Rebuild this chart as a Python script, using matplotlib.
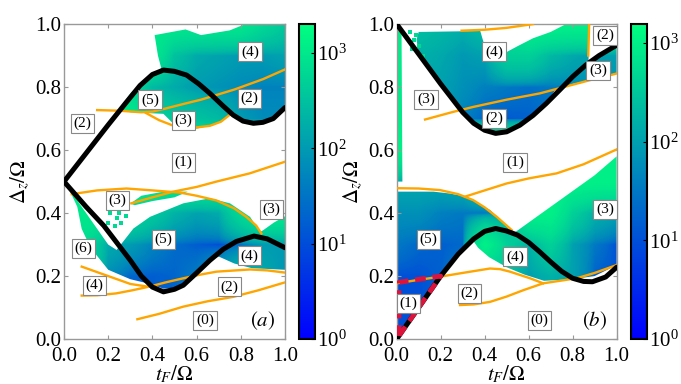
import numpy as np
import matplotlib.pyplot as plt
from matplotlib.path import Path
from matplotlib.patches import PathPatch
from matplotlib.colors import LogNorm

plt.rcParams['font.family'] = ['Liberation Serif', 'DejaVu Serif']
plt.rcParams['mathtext.fontset'] = 'stix'

# ---------------- data ----------------
# coarse log10 readings of the colour map, rows y = 0.0 .. 1.0, cols x = 0.0 .. 1.0
log_a = [
    [2.8, 2.8, 1.8, 1.3, 1.2, 1.3, 1.6, 2.0, 2.4, 2.2, 1.9],
    [2.8, 2.8, 1.8, 1.3, 1.2, 1.3, 1.6, 2.0, 2.4, 2.2, 1.9],
    [2.8, 2.8, 1.8, 1.3, 1.2, 1.3, 1.6, 2.0, 2.4, 2.2, 1.9],
    [2.8, 2.8, 2.2, 2.0, 1.7, 1.4, 1.2, 1.0, 1.4, 2.0, 2.0],
    [3.0, 3.0, 3.0, 2.8, 2.6, 2.3, 2.1, 2.2, 2.8, 3.0, 3.0],
    [3.0, 3.0, 3.0, 3.0, 3.0, 3.0, 3.0, 3.0, 3.0, 3.0, 3.0],
    [3.0, 3.0, 3.0, 3.0, 3.0, 3.0, 3.0, 3.0, 3.0, 3.0, 3.0],
    [3.0, 3.0, 3.0, 3.0, 2.7, 2.6, 2.5, 2.4, 2.0, 1.8, 1.8],
    [3.0, 3.0, 3.0, 2.8, 2.4, 2.2, 2.0, 1.9, 1.8, 1.7, 1.7],
    [3.0, 3.0, 3.0, 3.0, 3.0, 2.5, 2.2, 2.1, 2.0, 2.0, 2.1],
    [3.0, 3.0, 3.0, 3.0, 3.0, 3.0, 3.0, 3.0, 3.0, 2.8, 2.6],
]
log_b = [
    [1.0, 1.0, 1.2, 1.6, 2.4, 2.4, 2.0, 2.2, 2.2, 1.2, 1.0],
    [1.0, 1.0, 1.2, 1.6, 2.4, 2.4, 2.0, 2.2, 2.2, 1.2, 1.0],
    [1.0, 1.0, 1.2, 1.6, 2.4, 2.4, 2.0, 2.2, 2.0, 1.2, 1.0],
    [1.5, 1.3, 1.2, 1.3, 3.0, 2.6, 2.2, 2.6, 2.0, 1.5, 1.0],
    [1.8, 1.8, 1.6, 1.5, 1.5, 2.0, 3.0, 3.0, 2.6, 2.2, 2.0],
    [2.1, 2.1, 2.1, 2.2, 2.5, 2.8, 3.0, 3.0, 3.0, 3.0, 3.0],
    [3.0, 3.0, 3.0, 3.0, 3.0, 3.0, 3.0, 3.0, 3.0, 3.0, 3.0],
    [3.0, 2.0, 2.0, 1.6, 1.2, 1.1, 1.2, 1.4, 1.6, 1.8, 1.8],
    [3.0, 2.0, 2.0, 1.8, 1.6, 1.5, 1.4, 1.5, 1.7, 1.8, 1.8],
    [3.0, 2.2, 2.1, 1.9, 2.0, 2.6, 2.6, 2.3, 2.1, 2.0, 2.0],
    [3.0, 2.4, 2.3, 2.2, 2.4, 2.8, 3.0, 3.0, 3.0, 3.0, 3.0],
]
vmax_a = 2000
vmax_b = 1550

# outlines of the coloured (non-white) areas
regions_a = [
    [(0.41, 0.965), (0.55, 0.983), (0.62, 0.965), (0.75, 0.98), (0.82, 1.0), (1.0, 1.0),
     (1.0, 0.73), (0.95, 0.70), (0.86, 0.683), (0.75, 0.71), (0.68, 0.68), (0.6, 0.668),
     (0.5, 0.68), (0.45, 0.715), (0.3, 0.72), (0.25, 0.73), (0.27, 0.75), (0.3, 0.78),
     (0.36, 0.82), (0.44, 0.86), (0.425, 0.9)],
    [(0.02, 0.48), (0.06, 0.42), (0.08, 0.35), (0.12, 0.29), (0.2, 0.22), (0.3, 0.19),
     (0.39, 0.175), (0.45, 0.16), (0.5, 0.163), (0.55, 0.18), (0.6, 0.21), (0.66, 0.25),
     (0.7, 0.262), (0.77, 0.24), (0.85, 0.225), (1.0, 0.22), (1.0, 0.39), (0.95, 0.37),
     (0.9, 0.345), (0.887, 0.34), (0.842, 0.388), (0.751, 0.431), (0.66, 0.447),
     (0.54, 0.431), (0.389, 0.388), (0.314, 0.351), (0.238, 0.283), (0.2, 0.3),
     (0.15, 0.35), (0.1, 0.4), (0.05, 0.45)],
    [(0.3, 0.43), (0.35, 0.455), (0.45, 0.468), (0.56, 0.468), (0.5, 0.45), (0.4, 0.438),
     (0.32, 0.425)],
]
regions_b = [
    [(0.1, 0.975), (0.38, 0.978), (0.4, 0.93), (0.47, 0.9), (0.55, 0.93), (0.62, 0.955),
     (0.7, 0.975), (0.77, 1.0), (0.875, 1.0), (0.872, 0.88), (0.92, 0.9), (1.0, 0.933),
     (1.0, 0.845), (0.88, 0.822), (0.8, 0.81), (0.72, 0.79), (0.68, 0.748), (0.62, 0.71),
     (0.56, 0.679), (0.5, 0.658), (0.45, 0.653), (0.4, 0.663), (0.35, 0.685), (0.3, 0.72),
     (0.2, 0.81), (0.12, 0.885), (0.1, 0.91), (0.09, 0.95)],
    [(0.006, 0.5), (0.026, 0.5), (0.022, 0.98), (0.006, 0.98)],
    [(0.0, 0.468), (0.167, 0.468), (0.242, 0.462), (0.318, 0.452), (0.37, 0.43),
     (0.424, 0.41), (0.47, 0.38), (0.515, 0.346), (0.52, 0.33), (0.6, 0.37), (0.7, 0.42),
     (0.8, 0.47), (0.9, 0.52), (1.0, 0.58), (1.0, 0.235), (0.9, 0.2), (0.8, 0.19),
     (0.67, 0.185), (0.58, 0.205), (0.5, 0.228), (0.42, 0.26), (0.37, 0.29), (0.35, 0.31),
     (0.3, 0.28), (0.2, 0.2), (0.0, 0.0)],
]

# scattered isolated cells
dots_a = [(0.21, 0.40), (0.24, 0.385), (0.26, 0.37), (0.23, 0.36), (0.28, 0.39),
          (0.25, 0.40), (0.27, 0.415), (0.2, 0.37)]
dots_b = [(0.06, 0.975), (0.08, 0.95), (0.1, 0.93), (0.07, 0.92), (0.12, 0.9), (0.09, 0.965)]

# thick black curves
black_a = [
    [(0.0, 0.5), (0.1, 0.59), (0.2, 0.68), (0.28, 0.75), (0.344, 0.805), (0.4, 0.84),
     (0.45, 0.854), (0.5, 0.85), (0.555, 0.838), (0.61, 0.81), (0.66, 0.78), (0.72, 0.74),
     (0.766, 0.711), (0.81, 0.692), (0.857, 0.685), (0.9, 0.688), (0.947, 0.70), (1.0, 0.735)],
    [(0.0, 0.5), (0.1, 0.42), (0.18, 0.36), (0.3, 0.25), (0.35, 0.2), (0.4, 0.165),
     (0.45, 0.15), (0.5, 0.158), (0.54, 0.171), (0.6, 0.21), (0.66, 0.25), (0.72, 0.285),
     (0.78, 0.31), (0.86, 0.327), (0.92, 0.318), (1.0, 0.29)],
]
black_b = [
    [(0.0, 1.0), (0.1, 0.905), (0.2, 0.81), (0.3, 0.72), (0.35, 0.685), (0.4, 0.663),
     (0.45, 0.653), (0.5, 0.658), (0.56, 0.679), (0.62, 0.71), (0.68, 0.748), (0.74, 0.79),
     (0.8, 0.833), (0.86, 0.87), (0.92, 0.9), (1.0, 0.933)],
    [(0.0, 0.0), (0.1, 0.1), (0.2, 0.2), (0.28, 0.27), (0.35, 0.318), (0.4, 0.342),
     (0.45, 0.351), (0.5, 0.343), (0.55, 0.33), (0.6, 0.307), (0.65, 0.277), (0.7, 0.245),
     (0.75, 0.215), (0.8, 0.193), (0.85, 0.183), (0.89, 0.182), (0.95, 0.197), (1.0, 0.228)],
]

# thin orange curves
orange_a = [
    [(0.15, 0.727), (0.25, 0.725), (0.35, 0.72), (0.4, 0.722), (0.46, 0.732), (0.55, 0.748),
     (0.62, 0.76), (0.77, 0.792), (0.9, 0.825), (1.0, 0.856)],
    [(0.37, 0.718), (0.43, 0.695), (0.5, 0.676), (0.6, 0.672), (0.66, 0.677), (0.71, 0.69),
     (0.75, 0.712)],
    [(0.035, 0.46), (0.15, 0.472), (0.283, 0.478), (0.4, 0.472), (0.525, 0.465), (0.6, 0.455),
     (0.69, 0.44), (0.77, 0.415), (0.825, 0.388), (0.87, 0.36), (0.893, 0.335)],
    [(0.305, 0.431), (0.4, 0.45), (0.494, 0.468), (0.6, 0.483), (0.69, 0.5), (0.84, 0.526),
     (1.0, 0.563)],
    [(0.08, 0.23), (0.2, 0.2), (0.3, 0.175), (0.374, 0.167)],
    [(0.08, 0.138), (0.15, 0.139), (0.236, 0.145), (0.31, 0.155), (0.389, 0.167), (0.46, 0.18),
     (0.54, 0.193), (0.62, 0.205), (0.69, 0.214), (0.842, 0.221), (0.92, 0.218), (1.0, 0.211)],
    [(0.332, 0.063), (0.43, 0.08), (0.54, 0.103), (0.65, 0.12), (0.766, 0.134), (0.88, 0.155),
     (1.0, 0.18)],
]
orange_b = [
    [(0.295, 0.979), (0.4, 0.982), (0.5, 0.988), (0.57, 0.995), (0.62, 1.0)],
    [(0.875, 1.0), (0.871, 0.9)],
    [(0.129, 0.697), (0.25, 0.72), (0.348, 0.737), (0.5, 0.76), (0.651, 0.78), (0.879, 0.822),
     (1.0, 0.843)],
    [(0.0, 0.479), (0.1, 0.478), (0.197, 0.473), (0.28, 0.46), (0.348, 0.441), (0.4, 0.418),
     (0.455, 0.388), (0.523, 0.346)],
    [(0.31, 0.452), (0.4, 0.472), (0.5, 0.494), (0.6, 0.51), (0.727, 0.526), (0.85, 0.555),
     (1.0, 0.602)],
    [(0.0, 0.177), (0.1, 0.188), (0.197, 0.198), (0.3, 0.21), (0.424, 0.224), (0.47, 0.222),
     (0.515, 0.214), (0.606, 0.193), (0.666, 0.177)],
    [(0.288, 0.108), (0.35, 0.11), (0.424, 0.118), (0.5, 0.135), (0.575, 0.155), (0.666, 0.177),
     (0.818, 0.193), (0.9, 0.21), (1.0, 0.235)],
]

# red dashed triangle (panel b)
red_b = [(0.01, 0.01), (0.01, 0.18), (0.2, 0.2), (0.01, 0.01)]

# boxed labels: (x, y, text)
labels_a = [(0.842, 0.912, '(4)'), (0.389, 0.759, '(5)'), (0.838, 0.764, '(2)'),
            (0.084, 0.685, '(2)'), (0.54, 0.695, '(3)'), (0.54, 0.56, '(1)'),
            (0.241, 0.441, '(3)'), (0.94, 0.412, '(3)'), (0.449, 0.317, '(5)'),
            (0.087, 0.288, '(6)'), (0.839, 0.264, '(4)'), (0.137, 0.171, '(4)'),
            (0.748, 0.166, '(2)'), (0.638, 0.06, '(0)')]
labels_b = [(0.947, 0.965, '(2)'), (0.442, 0.912, '(4)'), (0.916, 0.854, '(3)'),
            (0.133, 0.762, '(3)'), (0.442, 0.70, '(2)'), (0.538, 0.56, '(1)'),
            (0.947, 0.412, '(3)'), (0.144, 0.317, '(5)'), (0.538, 0.261, '(4)'),
            (0.33, 0.145, '(2)'), (0.053, 0.113, '(1)'), (0.648, 0.06, '(0)')]

grid_edge = (-0.05, 1.05, -0.05, 1.05)


def draw_panel(fig, ax, cax, logc, vmax, regions, dots, blacks, oranges, labels, tag):
    norm = LogNorm(vmin=1, vmax=vmax)
    im = ax.imshow(10 ** np.array(logc), origin='lower', extent=grid_edge, cmap='winter',
                   norm=norm, interpolation='bilinear', aspect='auto', zorder=1)
    paths = []
    for r in regions:
        v = np.array(r)
        paths.append(Path(np.vstack([v, v[:1]]), closed=True))
    clip = PathPatch(Path.make_compound_path(*paths), transform=ax.transData)
    im.set_clip_path(clip)

    d = np.array(dots)
    ax.scatter(d[:, 0], d[:, 1], s=6, marker='s', c=[plt.get_cmap('winter')(0.85)],
               linewidths=0, zorder=2)

    for c in oranges:
        c = np.array(c)
        ax.plot(c[:, 0], c[:, 1], color='#FFA500', lw=1.7, zorder=3)
    for c in blacks:
        c = np.array(c)
        ax.plot(c[:, 0], c[:, 1], color='black', lw=3.6, zorder=4, solid_capstyle='round')

    for x, y, t in labels:
        ax.text(x, y, t, ha='center', va='center', fontsize=11, zorder=6,
                bbox=dict(boxstyle='square,pad=0.18', fc='white', ec='#888888', lw=0.8))
    ax.text(0.9, 0.06, tag, ha='center', va='center', fontsize=15, zorder=6)

    ax.set_xlim(0, 1)
    ax.set_ylim(0, 1)
    ax.set_xticks([0.0, 0.2, 0.4, 0.6, 0.8, 1.0])
    ax.set_yticks([0.0, 0.2, 0.4, 0.6, 0.8, 1.0])
    ax.set_xticklabels(['0.0', '0.2', '0.4', '0.6', '0.8', '1.0'])
    ax.set_yticklabels(['0.0', '0.2', '0.4', '0.6', '0.8', '1.0'])
    ax.tick_params(direction='in', top=True, right=True, length=3, color='#999999',
                   labelsize=15)
    ax.tick_params(axis='x', pad=6)
    ax.tick_params(axis='y', pad=2)
    for s in ax.spines.values():
        s.set_color('#999999')
        s.set_linewidth(1.0)
    ax.set_xlabel(r'$t_F/\Omega$', fontsize=15, labelpad=-2)
    ax.set_ylabel(r'$\Delta_z/\Omega$', fontsize=15, labelpad=2)

    cb = fig.colorbar(im, cax=cax)
    cb.set_ticks([1, 10, 100, 1000])
    cb.ax.minorticks_off()
    cb.ax.tick_params(direction='in', length=3, labelsize=15, pad=2)
    cb.outline.set_linewidth(1.5)
    return im


fig = plt.figure(figsize=(6.81, 3.84), dpi=100)
ax_a = fig.add_axes([0.094, 0.117, 0.3245, 0.8203])
cax_a = fig.add_axes([0.4386, 0.117, 0.0235, 0.8203])
ax_b = fig.add_axes([0.5825, 0.117, 0.323, 0.8203])
cax_b = fig.add_axes([0.9266, 0.117, 0.023, 0.8203])

draw_panel(fig, ax_a, cax_a, log_a, vmax_a, regions_a, dots_a, black_a, orange_a,
           labels_a, r'$(a)$')
draw_panel(fig, ax_b, cax_b, log_b, vmax_b, regions_b, dots_b, black_b, orange_b,
           labels_b, r'$(b)$')

red = np.array(red_b)
ax_b.plot(red[:, 0], red[:, 1], color='#DC143C', lw=3.5, ls=(0, (2.2, 1.4)), zorder=5)

fig.savefig('out.png', dpi=100)
